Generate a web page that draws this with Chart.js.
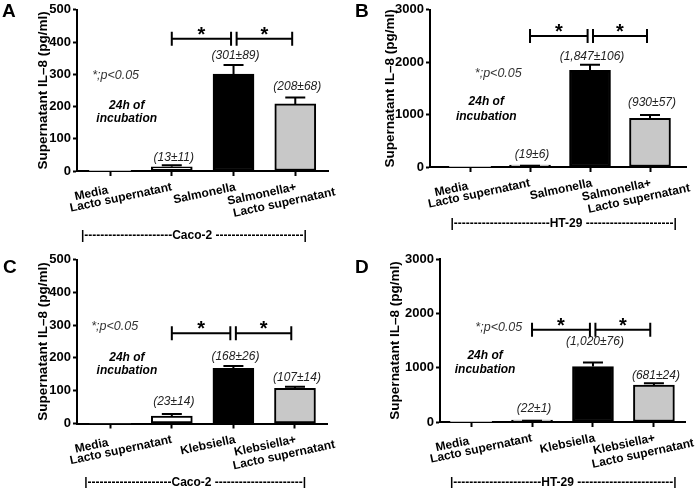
<!DOCTYPE html>
<html><head><meta charset="utf-8">
<script src="https://cdn.jsdelivr.net/npm/chart.js@4.4.0/dist/chart.umd.min.js"></script>
<style>
html,body{margin:0;padding:0;background:#fff;}
#wrap{position:relative;width:695px;height:488px;overflow:hidden;background:#fff;}
canvas{position:absolute;left:0;top:0;}
</style></head><body>
<div id="wrap">
<canvas id="cA" width="695" height="488"></canvas>
<canvas id="cB" width="695" height="488"></canvas>
<canvas id="cC" width="695" height="488"></canvas>
<canvas id="cD" width="695" height="488"></canvas>
</div>
<script>
// ---------- data ----------
const categoryIndex = [0, 1, 2, 3];
const salmonellaLabels = [['Media'], ['Lacto supernatant'], ['Salmonella'], ['Salmonella+', 'Lacto supernatant']];
const klebsiellaLabels = [['Media'], ['Lacto supernatant'], ['Klebsiella'], ['Klebsiella+', 'Lacto supernatant']];

const caco2SalmonellaMean = [0, 13, 301, 208];
const caco2SalmonellaErr  = [0, 5, 28, 20];
const caco2SalmonellaText = ['', '(13\u00b111)', '(301\u00b189)', '(208\u00b168)'];

const ht29SalmonellaMean = [0, 19, 1847, 930];
const ht29SalmonellaErr  = [0, 6, 106, 60];
const ht29SalmonellaText = ['', '(19\u00b16)', '(1,847\u00b1106)', '(930\u00b157)'];

const caco2KlebsiellaMean = [0, 23, 168, 107];
const caco2KlebsiellaErr  = [0, 6, 7, 5];
const caco2KlebsiellaText = ['', '(23\u00b114)', '(168\u00b126)', '(107\u00b114)'];

const ht29KlebsiellaMean = [0, 22, 1020, 681];
const ht29KlebsiellaErr  = [0, 2, 76, 30];
const ht29KlebsiellaText = ['', '(22\u00b11)', '(1,020\u00b176)', '(681\u00b124)'];

const caco2Ticks = [0, 100, 200, 300, 400, 500];
const ht29Ticks = [0, 1000, 2000, 3000];
const significanceLevel = [410, 2500, 275, 1700];

// ---------- styling / drawing ----------
const FONT = 'Arial, "Liberation Sans", sans-serif';
const barFill = ['#ffffff', '#ffffff', '#000000', '#c8c8c8'];
const barBorder = [0, 2, 2, 2];

const annotPlugin = {
  id: 'panelAnnot',
  afterDatasetsDraw(chart, args, o) {
    const ctx = chart.ctx, xs = chart.scales.x, ys = chart.scales.y;
    const meta = chart.getDatasetMeta(0);
    const ds = chart.data.datasets[0];
    ctx.save();
    // error bars + value labels
    ctx.strokeStyle = '#000'; ctx.lineWidth = 2; ctx.lineCap = 'butt';
    meta.data.forEach((bar, i) => {
      const e = o.errors[i];
      const v = ds.data[i].y;
      const yTop = ys.getPixelForValue(v + e);
      if (e > 0) {
        ctx.beginPath();
        ctx.moveTo(bar.x, bar.y); ctx.lineTo(bar.x, yTop);
        ctx.moveTo(bar.x - 10, yTop); ctx.lineTo(bar.x + 10, yTop);
        ctx.stroke();
      }
      if (o.valueText[i]) {
        ctx.fillStyle = '#222';
        ctx.font = 'italic 12px ' + FONT;
        ctx.textAlign = 'center'; ctx.textBaseline = 'middle';
        ctx.fillText(o.valueText[i], bar.x + 2, yTop - o.valueOffset[i]);
      }
    });
    // significance brackets
    const by = ys.getPixelForValue(o.sigY);
    o.brackets.forEach(([a, b]) => {
      const x1 = xs.getPixelForValue(a), x2 = xs.getPixelForValue(b);
      ctx.beginPath();
      ctx.moveTo(x1, by); ctx.lineTo(x2, by);
      ctx.moveTo(x1, by - 7); ctx.lineTo(x1, by + 7);
      ctx.moveTo(x2, by - 7); ctx.lineTo(x2, by + 7);
      ctx.stroke();
      ctx.fillStyle = '#000';
      ctx.font = 'bold 20px ' + FONT;
      ctx.textAlign = 'center'; ctx.textBaseline = 'alphabetic';
      ctx.fillText('*', (x1 + x2) / 2, by + 2);
    });
    // free texts
    o.texts.forEach(t => {
      ctx.fillStyle = t.color || '#000';
      ctx.font = t.font;
      ctx.textAlign = t.align || 'center'; ctx.textBaseline = 'middle';
      ctx.fillText(t.t, xs.getPixelForValue(t.x), ys.getPixelForValue(t.y));
    });
    // rotated category labels
    const base = ys.getPixelForValue(0);
    ctx.fillStyle = '#000';
    ctx.font = 'bold 12px ' + FONT;
    const rot = -12 * Math.PI / 180;
    o.xLabels.forEach((lines, i) => {
      const tx = xs.getPixelForValue(i) + o.xLabelDx[i];
      ctx.save();
      ctx.translate(tx, base + o.xLabelDy + o.xLabelDyExtra[i]);
      ctx.rotate(rot);
      ctx.textBaseline = 'middle';
      ctx.textAlign = 'right';
      ctx.fillText(lines[0], 0, 0);
      if (lines[1]) {
        ctx.fillText(lines[1], 37, 13);
      }
      ctx.restore();
    });
    // cell-line group bracket
    const g = o.group;
    const gl = xs.getPixelForValue(g.left), gr = xs.getPixelForValue(g.right), gc = xs.getPixelForValue(g.center);
    const gy = base + g.dy;
    ctx.font = 'bold 12px ' + FONT;
    ctx.textBaseline = 'middle';
    const wName = ctx.measureText(g.text).width;
    const wDash = ctx.measureText('-').width;
    const nL = Math.max(1, Math.round((gc - wName / 2 - gl - 3) / wDash));
    const nR = Math.max(1, Math.round((gr - (gc + wName / 2) - 6) / wDash));
    ctx.textAlign = 'center';
    ctx.fillText(g.text, gc, gy);
    ctx.textAlign = 'right';
    ctx.fillText('|' + '-'.repeat(nL), gc - wName / 2, gy);
    ctx.textAlign = 'left';
    ctx.fillText(' ' + '-'.repeat(nR) + '|', gc + wName / 2, gy);
    // panel letter
    ctx.font = 'bold 19px ' + FONT;
    ctx.textAlign = 'left'; ctx.textBaseline = 'alphabetic';
    ctx.fillText(o.letter.t, o.letter.x, o.letter.y);
    ctx.restore();
  }
};

function makePanel(id, p) {
  const H = 10;
  const W = p.axisLeft - p.titleLeft;
  new Chart(document.getElementById(id), {
    type: 'bar',
    data: {
      datasets: [{
        data: categoryIndex.map(i => ({ x: i, y: p.mean[i] })),
        backgroundColor: barFill,
        borderColor: '#000',
        borderWidth: barBorder,
        borderSkipped: false,
        barThickness: 41,
        minBarLength: 2
      }]
    },
    options: {
      responsive: false,
      animation: false,
      devicePixelRatio: 1,
      events: [],
      layout: { padding: { left: p.titleLeft, right: 695 - p.axisRight, top: p.top, bottom: 488 - p.bottom - H } },
      plugins: {
        legend: { display: false },
        tooltip: { enabled: false },
        panelAnnot: p.annot
      },
      scales: {
        x: {
          type: 'linear',
          min: p.xmin, max: p.xmax,
          offset: false,
          afterBuildTicks: s => { s.ticks = categoryIndex.map(v => ({ value: v })); },
          afterFit: s => { s.height = H; },
          ticks: { display: false },
          grid: { offset: false, drawOnChartArea: false, drawTicks: true, tickLength: 5, tickWidth: 2, tickColor: '#000' },
          border: { display: true, color: '#000', width: 2 }
        },
        y: {
          min: 0, max: p.ticks[p.ticks.length - 1],
          afterBuildTicks: s => { s.ticks = p.ticks.map(v => ({ value: v })); },
          afterFit: s => { s.width = W; },
          ticks: { color: '#000', font: { family: FONT, size: 13, weight: 'bold' }, padding: 2,
                   callback: v => String(v) },
          grid: { drawOnChartArea: false, drawTicks: true, tickLength: 4, tickWidth: 2, tickColor: '#000' },
          border: { display: true, color: '#000', width: 2 },
          title: { display: true, text: 'Supernatant IL\u20138 (pg/ml)', color: '#000', padding: 0,
                   font: { family: FONT, size: 13.5, weight: 'bold' } }
        }
      }
    },
    plugins: [annotPlugin]
  });
}

const pText = (x, y) => ({ t: '*;p<0.05', x, y, font: 'italic 12.5px ' + FONT, align: 'left', color: '#333' });
const incub = (x, y1, y2) => [
  { t: '24h of', x, y: y1, font: 'bold italic 12px ' + FONT },
  { t: 'incubation', x, y: y2, font: 'bold italic 12px ' + FONT }
];
const labelDx = [-2, 0, 2, 1];
const labelDyExtra = [3, 0, 0, 0];

makePanel('cA', {
  axisLeft: 77, axisRight: 328, top: 6, bottom: 171, titleLeft: 35, xmin: -0.535, xmax: 3.53,
  mean: caco2SalmonellaMean, ticks: caco2Ticks,
  annot: {
    errors: caco2SalmonellaErr, valueText: caco2SalmonellaText, valueOffset: [0, 8, 9, 11],
    sigY: significanceLevel[0], brackets: [[1, 1.96], [2.05, 2.95]],
    texts: [pText(-0.29, 297), ...incub(0.27, 202, 163)],
    xLabels: salmonellaLabels, xLabelDx: labelDx, xLabelDyExtra: labelDyExtra, xLabelDy: 16,
    group: { text: 'Caco-2', left: -0.44, right: 3.19, center: 1.33, dy: 65 },
    letter: { t: 'A', x: 2, y: 17 }
  }
});

makePanel('cB', {
  axisLeft: 430, axisRight: 686, top: 6, bottom: 167, titleLeft: 382, xmin: -0.667, xmax: 3.6,
  mean: ht29SalmonellaMean, ticks: ht29Ticks,
  annot: {
    errors: ht29SalmonellaErr, valueText: ht29SalmonellaText, valueOffset: [0, 11, 8, 12],
    sigY: significanceLevel[1], brackets: [[1, 1.96], [2.05, 2.95]],
    texts: [pText(0.08, 1775), ...incub(0.27, 1248, 968)],
    xLabels: salmonellaLabels, xLabelDx: labelDx, xLabelDyExtra: labelDyExtra, xLabelDy: 16,
    group: { text: 'HT-29', left: -0.31, right: 3.42, center: 1.6, dy: 57 },
    letter: { t: 'B', x: 355, y: 17 }
  }
});

makePanel('cC', {
  axisLeft: 77, axisRight: 327, top: 259.5, bottom: 423.5, titleLeft: 35, xmin: -0.54, xmax: 3.52,
  mean: caco2KlebsiellaMean, ticks: caco2Ticks,
  annot: {
    errors: caco2KlebsiellaErr, valueText: caco2KlebsiellaText, valueOffset: [0, 12, 9, 9],
    sigY: significanceLevel[2], brackets: [[1, 1.95], [2.04, 2.94]],
    texts: [pText(-0.31, 296), ...incub(0.27, 200, 162)],
    xLabels: klebsiellaLabels, xLabelDx: labelDx, xLabelDyExtra: labelDyExtra, xLabelDy: 16,
    group: { text: 'Caco-2', left: -0.44, right: 3.2, center: 1.32, dy: 59 },
    letter: { t: 'C', x: 3, y: 273 }
  }
});

makePanel('cD', {
  axisLeft: 440, axisRight: 685, top: 259, bottom: 422, titleLeft: 387, xmin: -0.51, xmax: 3.51,
  mean: ht29KlebsiellaMean, ticks: ht29Ticks,
  annot: {
    errors: ht29KlebsiellaErr, valueText: ht29KlebsiellaText, valueOffset: [0, 12, 21, 8],
    sigY: significanceLevel[3], brackets: [[1, 1.95], [2.04, 2.94]],
    texts: [pText(0.07, 1744), ...incub(0.23, 1214, 967)],
    xLabels: klebsiellaLabels, xLabelDx: labelDx, xLabelDyExtra: labelDyExtra, xLabelDy: 16,
    group: { text: 'HT-29', left: -0.31, right: 3.38, center: 1.42, dy: 61 },
    letter: { t: 'D', x: 355, y: 273 }
  }
});
</script>
</body></html>
